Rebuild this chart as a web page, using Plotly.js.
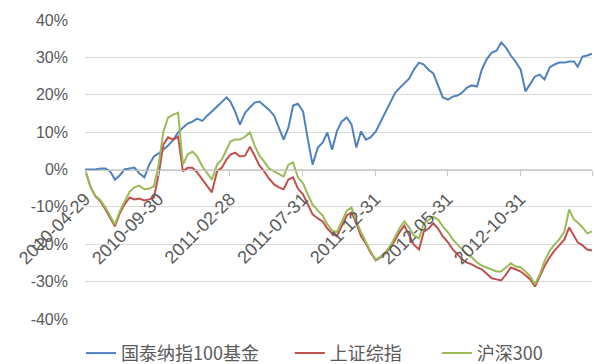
<!DOCTYPE html>
<html>
<head>
<meta charset="utf-8">
<script src="https://cdn.plot.ly/plotly-3.0.1.min.js"></script>
<style>html,body{margin:0;padding:0;background:#fff;}#chart{width:595px;height:364px;}</style>
</head>
<body>
<div id="chart"></div>
<script>
const dates = [
"2010-04-29","2010-05-11","2010-05-21",
"2010-06-01","2010-06-11","2010-06-21","2010-07-01","2010-07-11","2010-07-21",
"2010-08-01","2010-08-11","2010-08-21","2010-09-01","2010-09-11","2010-09-21",
"2010-10-01","2010-10-11","2010-10-21","2010-11-01","2010-11-11","2010-11-21",
"2010-12-01","2010-12-11","2010-12-21",
"2011-01-01","2011-01-11","2011-01-21","2011-02-01","2011-02-11","2011-02-21",
"2011-03-01","2011-03-11","2011-03-21","2011-04-01","2011-04-11","2011-04-21",
"2011-05-01","2011-05-11","2011-05-21","2011-06-01","2011-06-11","2011-06-21",
"2011-07-01","2011-07-11","2011-07-21","2011-08-01","2011-08-11","2011-08-21",
"2011-09-01","2011-09-11","2011-09-21","2011-10-01","2011-10-11","2011-10-21",
"2011-11-01","2011-11-11","2011-11-21","2011-12-01","2011-12-11","2011-12-21",
"2012-01-01","2012-01-11","2012-01-21","2012-02-01","2012-02-11","2012-02-21",
"2012-03-01","2012-03-11","2012-03-21","2012-04-01","2012-04-11","2012-04-21",
"2012-05-01","2012-05-11","2012-05-21","2012-06-01","2012-06-11","2012-06-21",
"2012-07-01","2012-07-11","2012-07-21","2012-08-01","2012-08-11","2012-08-21",
"2012-09-01","2012-09-11","2012-09-21","2012-10-01","2012-10-11","2012-10-21",
"2012-11-01","2012-11-11","2012-11-21","2012-12-01","2012-12-11","2012-12-21",
"2013-01-01","2013-01-11","2013-01-21","2013-02-01","2013-02-11","2013-02-21",
"2013-03-01","2013-03-11","2013-03-21","2013-03-31"
];

// 国泰纳指100基金 (%)
const fundNasdaq = [
0,0,0,
0.3,0.3,-0.5,-2.7,-1.6,0,
0.3,0.5,-1,-2.1,1.3,3.5,
4.3,5.3,6.4,8,9.9,11.2,
12.3,12.8,13.6,
13,14.4,15.5,16.8,17.9,19.3,
18.2,15.5,12,15.2,16.6,17.9,
18.2,17.1,16,14.4,11.2,8,
11.2,17.1,17.6,15.5,8,1.3,
5.9,7.2,9.9,5.3,10.2,12.8,
13.9,12,5.9,10.2,8,8.6,
10.2,12.8,15.5,18.2,20.6,21.9,
23,24.3,26.7,28.6,28.1,26.7,
25.7,22.7,19.3,18.7,19.5,19.8,
20.6,21.9,22.5,22.2,26.7,29.4,
31.3,31.8,34,32.6,30.5,28.9,
26.7,20.9,23,24.9,25.4,24.1,
27.3,28.1,28.6,28.6,28.9,28.9,
27.5,30.2,30.5,31
];

// 上证综指 (%)
const shComposite = [
0,-4.8,-7.2,
-8.6,-10.7,-12.8,-15.2,-11.8,-9.4,
-7.5,-8.0,-7.8,-8.3,-8.0,-7.5,
-1.3,6.7,8.6,8.0,8.8,-0.5,
0.5,0.5,-0.8,
-2.7,-4.5,-6.1,-0.5,0.5,2.7,
4.0,4.5,3.5,3.7,6.1,3.7,
1.1,-0.5,-2.4,-4.0,-4.8,-5.3,
-2.7,-2.1,-5.1,-6.7,-9.4,-12.0,
-13.1,-13.9,-15.8,-17.1,-17.9,-15.0,
-12.3,-11.5,-14.4,-17.9,-19.8,-22.2,
-24.3,-23.5,-22.5,-20.9,-18.7,-16.6,
-15.0,-17.4,-20.1,-21.4,-16.6,-15.8,
-14.4,-15.8,-17.9,-19.5,-21.4,-22.7,
-24.1,-24.9,-25.4,-26.2,-26.7,-27.8,
-29.1,-29.4,-29.7,-28.1,-26.2,-26.7,
-27.3,-28.3,-29.4,-31.3,-28.6,-25.9,
-23.5,-21.7,-20.3,-18.7,-15.5,-17.6,
-19.5,-20.3,-21.4,-21.7
];

// 沪深300 (%)
const csi300 = [
0,-4.8,-7.0,
-8.3,-10.2,-12.3,-14.7,-11.2,-8.6,
-5.9,-4.8,-4.3,-5.3,-5.1,-4.5,
1.3,10.2,13.9,14.7,15.2,1.3,
4.0,4.8,3.5,
0.8,-0.8,-2.7,1.3,2.7,5.3,
7.5,8.0,8.0,8.8,9.9,6.4,
3.7,2.1,0.3,-0.5,-1.3,-1.9,
1.3,1.9,-2.1,-3.7,-6.7,-9.4,
-11.0,-12.3,-14.7,-16.3,-16.8,-13.9,
-11.0,-10.2,-13.9,-16.8,-19.5,-21.9,
-24.1,-23.3,-22.2,-20.3,-17.9,-15.5,
-13.9,-15.5,-17.6,-18.4,-14.4,-13.6,
-12.6,-13.4,-15.2,-16.8,-18.7,-20.1,
-21.4,-22.7,-23.5,-24.9,-25.7,-26.2,
-26.7,-27.3,-27.3,-26.2,-25.1,-25.9,
-26.2,-27.3,-28.6,-30.7,-28.1,-24.6,
-21.7,-20.1,-18.7,-16.6,-10.7,-13.4,
-14.2,-15.5,-17.1,-16.6
];

const seriesNames = ["国泰纳指100基金", "上证综指", "沪深300"];
const tickDates = ["2010-04-29","2010-09-30","2011-02-28","2011-07-31","2011-12-31","2012-05-31","2012-10-31","2013-03-31"];
const tickLabels = ["2010-04-29","2010-09-30","2011-02-28","2011-07-31","2011-12-31","2012-05-31","2012-10-31","2013-03-31"];
const yTicks = [-40,-30,-20,-10,0,10,20,30,40];

const fontFam = '"Liberation Sans", Arial, "Noto Sans CJK SC", sans-serif';
const legendIds = ['legend', 'legend2', 'legend3'];
const traces = [
  {x: dates, y: fundNasdaq, name: seriesNames[0], color: '#4F81BD'},
  {x: dates, y: shComposite, name: seriesNames[1], color: '#C0504D'},
  {x: dates, y: csi300, name: seriesNames[2], color: '#9BBB59'}
].map((s, i) => ({
  type: 'scatter', mode: 'lines', x: s.x, y: s.y, name: s.name,
  line: {color: s.color, width: 2}, hoverinfo: 'skip', legend: legendIds[i]
}));

const legendFont = {family: '"Noto Sans CJK SC", "Liberation Sans", sans-serif', size: 18, color: '#595959'};
const mkLegend = (x) => ({
  orientation: 'h', x: x, xanchor: 'left', y: -0.115, yanchor: 'middle',
  font: legendFont, bgcolor: 'rgba(0,0,0,0)'
});

const layout = {
  width: 595, height: 364,
  margin: {l: 85, r: 3, t: 20, b: 45, autoexpand: false},
  paper_bgcolor: '#ffffff', plot_bgcolor: '#ffffff',
  font: {family: fontFam, color: '#595959', size: 14},
  showlegend: true,
  legend: mkLegend(-0.008),
  legend2: mkLegend(0.404),
  legend3: mkLegend(0.694),
  xaxis: {
    type: 'date', range: ['2010-04-29', '2013-03-31'],
    tickmode: 'array', tickvals: tickDates, ticktext: tickLabels,
    tickangle: -45, anchor: 'free', position: 0.5,
    showline: true, linecolor: '#c8c8c8', linewidth: 1,
    ticks: 'outside', ticklen: 5, tickcolor: '#c8c8c8',
    showgrid: false, zeroline: false,
    tickfont: {size: 18, color: '#595959'},
    ticklabelstandoff: 6
  },
  yaxis: {
    range: [-40, 40], tickmode: 'array', tickvals: yTicks,
    ticktext: yTicks.map(v => v + '%'),
    showgrid: true, gridcolor: '#d9d9d9', gridwidth: 1,
    zeroline: false, showline: false, ticks: '',
    tickfont: {size: 16, color: '#595959'},
    ticklabelstandoff: 16
  }
};

Plotly.newPlot('chart', traces, layout, {staticPlot: true, displayModeBar: false});
</script>
</body>
</html>
